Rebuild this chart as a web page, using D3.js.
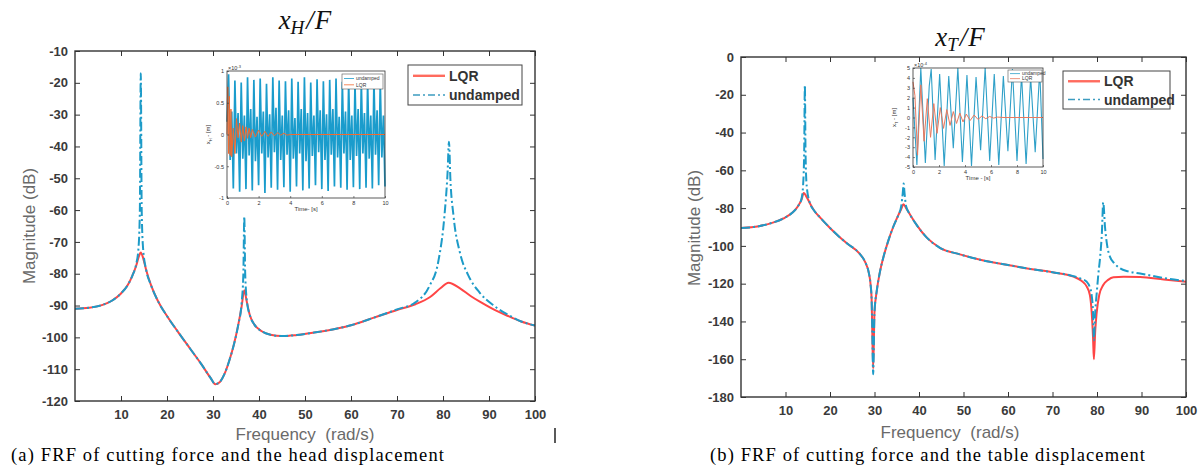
<!DOCTYPE html>
<html>
<head>
<meta charset="utf-8">
<title>FRF x_H/F and x_T/F</title>
<style>
  body { margin: 0; background: #fff; }
  svg { display: block; }
</style>
</head>
<body>
<script src="https://d3js.org/d3.v7.min.js"></script>
<svg id="fig" width="1198" height="468"></svg>

<script>
// ---- tick labels ----
var freqTicks = [10, 20, 30, 40, 50, 60, 70, 80, 90, 100];
var magTicksH = [-10, -20, -30, -40, -50, -60, -70, -80, -90, -100, -110, -120];
var magTicksT = [0, -20, -40, -60, -80, -100, -120, -140, -160, -180];
var seriesNames = ["LQR", "undamped"];

// ---- (a) x_H / F ----
var hLqrFreq = [0, 3, 6, 8, 10, 11.5, 12.5, 13.3, 13.9, 14.3, 14.8, 15.5, 16.5, 18, 20, 22.5, 25, 27.5, 29.5, 30.5,
                31.5, 32.5, 33.5, 34.5, 35.5, 36.2, 36.8, 37.3, 38, 39, 40.5, 42.5, 45, 48, 52, 56, 60, 65,
                70, 74, 77.2, 79.5, 81.2, 83.7, 86, 88, 91, 94, 97, 100];
var hLqrDb   = [-91, -90.7, -89.8, -88.5, -86.2, -83.5, -80.5, -77.5, -74.5, -73.3, -75, -79, -83.5, -88.5, -93.3, -98.5, -103.5, -108.5, -112.8, -114.7,
                -114, -111.5, -107.5, -102.5, -96, -90.5, -85.2, -88.5, -93, -96, -98, -99.2, -99.6, -99.3, -98.5, -97.5, -96.2, -93.8,
                -91.4, -89.6, -87.3, -84.5, -82.8, -84.6, -87, -88.8, -91.2, -93.2, -95, -96.3];

var hUndFreq = [0, 3, 6, 8, 10, 11.5, 12.5, 13.3, 13.8, 14.1, 14.3, 14.5, 14.8, 15.5, 16.5, 18, 20, 22.5, 25, 27.5,
                29.5, 30.5, 31.5, 32.5, 33.5, 34.5, 35.5, 36.2, 36.6, 36.8, 37.0, 37.4, 38, 39, 40.5, 42.5, 45, 48,
                52, 56, 60, 65, 70, 74, 77, 79, 80.3, 81.0, 81.3, 81.6, 82.3, 83.7, 85.5, 88, 91, 94, 97, 100];
var hUndDb   = [-91, -90.7, -89.8, -88.5, -86.2, -83.5, -80.5, -77, -72, -60, -17, -60, -72, -79, -83.5, -88.5, -93.3, -98.5, -103.5, -108.5,
                -112.8, -114.7, -114, -111.5, -107.5, -102.5, -96, -89.5, -80, -62, -80, -89, -93, -96, -98, -99.2, -99.6, -99.3,
                -98.5, -97.5, -96.2, -93.8, -91.2, -89, -84, -76, -62, -48, -38.5, -50, -62, -73.5, -80.5, -86, -90, -92.8, -95, -96.3];

// ---- (b) x_T / F ----
var tLqrFreq = [0, 4, 7, 9.5, 11.5, 12.8, 13.6, 14.1, 14.6, 15.5, 16.5, 17.8, 20, 22, 24, 26.6, 28, 28.7, 29.1, 29.35,
                29.5, 29.7, 30, 30.5, 31.2, 32, 33, 34.2, 35.3, 36, 36.5, 37.1, 38, 39.5, 41.7, 44.7, 49.2, 54, 59.7, 65,
                70, 74.7, 76.5, 77.7, 78.4, 78.8, 79.1, 79.3, 79.6, 79.9, 80.5, 81.4, 82.5, 83.7, 86, 89.7, 95, 100];
var tLqrDb   = [-90.5, -89.6, -87.8, -85.5, -82.5, -79, -75.5, -72, -73.5, -77.5, -81.5, -85, -90.5, -95, -99, -104, -109, -114, -120, -128,
                -145, -165, -135, -124, -114, -106, -98, -90, -84, -80.5, -78, -80, -83.5, -89, -95.5, -101, -104.5, -107.5, -110, -112.2,
                -114, -116.3, -118.5, -121.6, -126, -135, -148, -160, -145, -136, -126, -120.7, -118, -116.6, -116.3, -116.5, -117.8, -119];

var tUndFreq = [0, 4, 7, 9.5, 11.5, 12.8, 13.6, 13.95, 14.2, 14.35, 14.5, 14.75, 15.5, 16.5, 17.8, 20, 22, 24, 26.6, 28,
                28.7, 29.1, 29.35, 29.5, 29.7, 30, 30.5, 31.2, 32, 33, 34.2, 35.3, 36, 36.35, 36.55, 36.75, 37.1, 38, 39.5, 41.7,
                44.7, 49.2, 54, 59.7, 65, 70, 74.7, 76.5, 77.7, 78.4, 78.8, 79.1, 79.3, 79.6, 79.9, 80.3, 80.7, 81.1, 81.4, 81.8,
                82.3, 82.9, 84, 85.2, 87, 89.7, 95, 100];
var tUndDb   = [-90.5, -89.6, -87.8, -85.5, -82.5, -79, -75, -68, -50, -15, -50, -68, -77.5, -81.5, -85, -90.5, -95, -99, -104, -109,
                -114, -120, -128, -145, -168, -135, -124, -114, -106, -98, -90, -84, -79, -72, -67, -72, -79, -83.5, -89, -95.5,
                -101, -104.5, -107.5, -110, -112.2, -114, -116, -117.5, -119, -122, -126, -135, -150, -135, -126, -115, -106, -93, -77, -90,
                -100, -105.7, -109.5, -111.9, -113.5, -114.6, -117, -118.6];

// ---- inset (a): time response, x1e-3 m, sampled every 0.1 s ----
var insetHStep = 0.1;
var insetHUnd = [0.2, 0.95, -0.4, 0.36, -0.85,
  0.85, -0.3, 0.34, -0.9,  0.82, -0.38, 0.3, -0.86,  0.9, -0.33, 0.4, -0.88,  0.86, -0.42, 0.28, -0.8,
  0.88, -0.3, 0.36, -0.92, 0.8, -0.36, 0.32, -0.84,  0.9, -0.28, 0.42, -0.87,  0.85, -0.4, 0.3, -0.83,
  0.84, -0.32, 0.38, -0.9, 0.88, -0.38, 0.26, -0.82, 0.83, -0.3, 0.4, -0.88,  0.9, -0.42, 0.34, -0.85,
  0.82, -0.34, 0.3, -0.8,  0.87, -0.28, 0.38, -0.86, 0.84, -0.4, 0.32, -0.89,  0.86, -0.32, 0.4, -0.82,
  0.88, -0.36, 0.28, -0.84, 0.83, -0.3, 0.36, -0.87, 0.86, -0.4, 0.3, -0.83,  0.82, -0.34, 0.4, -0.86,
  0.85, -0.3, 0.34, -0.84, 0.84, -0.38, 0.3, -0.85,  0.86, -0.32, 0.38, -0.8,  0.84, -0.36, 0.3, -0.82];
var insetHLqrT = [0, 0.05, 0.1, 0.15, 0.2, 0.25, 0.3, 0.4, 0.5, 0.6, 0.7, 0.8, 0.9, 1.0, 1.1, 1.2, 1.3, 1.4, 1.5, 1.6,
                  1.8, 2.0, 2.2, 2.4, 2.6, 2.8, 3.0, 3.2, 3.4, 3.6, 3.8, 4.0, 10];
var insetHLqrV = [0, 0.75, -0.3, 0.6, -0.33, 0.4, -0.35, 0.1, -0.3, 0.25, -0.05, 0.18, -0.12, 0.14, -0.1, 0.12, -0.06, 0.1, -0.05, 0.08,
                  -0.04, 0.07, -0.03, 0.05, -0.03, 0.04, -0.02, 0.03, -0.01, 0.02, -0.01, 0, 0];

// ---- inset (b): time response, x1e-4 m ----
var insetTUndT = [0, 0.3, 0.6, 0.95, 1.25, 1.4, 1.7, 2.05, 2.4, 2.75, 3.1, 3.45, 3.8, 4.15, 4.5, 4.85, 5.2, 5.55, 5.9, 6.25,
                  6.6, 6.95, 7.3, 7.65, 8.0, 8.35, 8.7, 9.05, 9.4, 9.75, 10];
var insetTUndV = [2, -4.8, 5, -4.6, 3.2, 4.9, -4.3, 4.4, -4.9, 4.2, -3.1, 5.0, -4.5, 4.3, -4.9, 4.1, -3.3, 5.0, -4.4, 4.4,
                  -4.8, 4.2, -3.4, 4.9, -4.4, 4.3, -4.7, 4.1, -3.5, 4.8, -4.2];
var insetTLqrT = [0, 0.15, 0.35, 0.6, 0.85, 1.1, 1.35, 1.6, 1.85, 2.1, 2.35, 2.6, 2.85, 3.1, 3.35, 3.6, 3.85, 4.1, 4.4, 4.7,
                  5.0, 5.3, 5.6, 5.9, 6.2, 6.5, 7, 10];
var insetTLqrV = [3.6, 2.2, -3.8, 3.3, -2.4, 1.9, -2.0, 1.4, -1.6, 1.0, -1.1, 0.8, -0.8, 0.6, -0.6, 0.45, -0.45, 0.35, -0.3, 0.25,
                  -0.2, 0.15, -0.12, 0.1, -0.06, 0.04, 0, 0];

var RED = "#ff4545", BLUE = "#1d9bc8";
var SANS = "Liberation Sans, Arial, sans-serif";
var svg = d3.select("#fig");
svg.append("rect").attr("width", 1198).attr("height", 468).attr("fill", "#fff");

function styleTicks(sel) {
  sel.select(".domain").remove();
  sel.attr("color", "#333");
  sel.selectAll("line").attr("stroke-width", 1);
  sel.selectAll("text").attr("font-family", SANS).attr("font-weight", "bold")
     .attr("font-size", 13).attr("fill", "#3a3a3a");
}

function drawFrf(c) {
  var x = d3.scaleLinear().domain([0, 100]).range([c.x0, c.x1]);
  var y = d3.scaleLinear().domain([c.yTicks[c.yTicks.length - 1], c.yTicks[0]]).range([c.yb, c.yt]);
  var g = svg.append("g");

  g.append("g").attr("transform", "translate(0," + c.yb + ")")
    .call(d3.axisBottom(x).tickValues(freqTicks).tickSize(-5).tickPadding(9).tickFormat(function(d) { return d; }))
    .call(styleTicks);
  g.append("g").attr("transform", "translate(0," + c.yt + ")")
    .call(d3.axisTop(x).tickValues(freqTicks).tickSize(-5).tickFormat(""))
    .call(styleTicks);
  g.append("g").attr("transform", "translate(" + c.x0 + ",0)")
    .call(d3.axisLeft(y).tickValues(c.yTicks).tickSize(-5).tickPadding(7).tickFormat(function(d) { return String(d); }))
    .call(styleTicks);
  g.append("g").attr("transform", "translate(" + c.x1 + ",0)")
    .call(d3.axisRight(y).tickValues(c.yTicks).tickSize(-5).tickFormat(""))
    .call(styleTicks);

  var clipId = "clip" + c.id;
  g.append("clipPath").attr("id", clipId).append("rect")
    .attr("x", c.x0).attr("y", c.yt).attr("width", c.x1 - c.x0).attr("height", c.yb - c.yt);

  var line = d3.line().curve(d3.curveMonotoneX)
    .x(function(d) { return x(d[0]); }).y(function(d) { return y(d[1]); });
  var lines = g.append("g").attr("clip-path", "url(#" + clipId + ")").attr("fill", "none");
  lines.append("path").datum(d3.zip(c.lqrF, c.lqrDb)).attr("d", line)
    .attr("stroke", RED).attr("stroke-width", 2);
  lines.append("path").datum(d3.zip(c.undF, c.undDb)).attr("d", line)
    .attr("stroke", BLUE).attr("stroke-width", 2).attr("stroke-dasharray", "9,3,2,3");

  g.append("rect").attr("x", c.x0).attr("y", c.yt).attr("width", c.x1 - c.x0).attr("height", c.yb - c.yt)
    .attr("fill", "none").attr("stroke", "#333").attr("stroke-width", 1.4);

  // axis titles
  g.append("text").attr("x", c.xLabelX).attr("y", c.xLabelY).attr("text-anchor", "middle")
    .attr("font-family", SANS).attr("font-size", 17).attr("fill", "#6a6a6a")
    .attr("xml:space", "preserve").text("Frequency  (rad/s)");
  g.append("text").attr("transform", "translate(" + c.yLabelX + "," + c.yLabelY + ") rotate(-90)")
    .attr("text-anchor", "middle").attr("font-family", SANS).attr("font-size", 17).attr("fill", "#6a6a6a")
    .text("Magnitude (dB)");

  // title
  var t = g.append("text").attr("x", c.titleX).attr("y", c.titleY).attr("text-anchor", "middle")
    .attr("font-family", "Liberation Serif, serif").attr("font-style", "italic").attr("font-size", 27).attr("fill", "#111");
  t.append("tspan").text("x");
  t.append("tspan").attr("dy", 5).attr("font-size", 19).text(c.sub);
  t.append("tspan").attr("dy", -5).attr("dx", 2).text("/");
  t.append("tspan").attr("dx", 1).text("F");

  // legend
  var lg = g.append("g").attr("transform", "translate(" + c.legX + "," + c.legY + ")");
  lg.append("rect").attr("width", c.legW).attr("height", c.legH).attr("fill", "#fff")
    .attr("stroke", "#444").attr("stroke-width", 1);
  var rows = [{ name: seriesNames[0], col: "#ff6b5e", dash: null, y: c.legH * 0.27 },
              { name: seriesNames[1], col: "#3d9cc0", dash: "7,3,2,3", y: c.legH * 0.75 }];
  rows.forEach(function(r) {
    lg.append("line").attr("x1", 5).attr("x2", 37).attr("y1", r.y).attr("y2", r.y)
      .attr("stroke", r.col).attr("stroke-width", r.dash ? 1.6 : 2.4).attr("stroke-dasharray", r.dash);
    lg.append("text").attr("x", 41).attr("y", r.y + 5).attr("font-family", SANS).attr("font-weight", "bold")
      .attr("font-size", 14).attr("fill", "#333").text(r.name);
  });
  return g;
}

function drawInset(c) {
  var x = d3.scaleLinear().domain([0, 10]).range([c.x0, c.x1]);
  var y = d3.scaleLinear().domain([-c.ymax, c.ymax]).range([c.yb, c.yt]);
  var g = svg.append("g");
  g.append("rect").attr("x", c.x0).attr("y", c.yt).attr("width", c.x1 - c.x0).attr("height", c.yb - c.yt).attr("fill", "#fff");

  var line = d3.line().x(function(d) { return x(d[0]); }).y(function(d) { return y(d[1]); });
  g.append("path").datum(c.und).attr("d", line).attr("fill", "none")
    .attr("stroke", c.undCol).attr("stroke-width", c.undW);
  g.append("path").datum(c.lqr).attr("d", line).attr("fill", "none")
    .attr("stroke", c.lqrCol).attr("stroke-width", 1);

  function tiny(sel) {
    sel.select(".domain").remove();
    sel.attr("color", "#333");
    sel.selectAll("line").attr("stroke-width", 0.6);
    sel.selectAll("text").attr("font-family", SANS).attr("font-size", 5.5).attr("fill", "#333");
  }
  g.append("g").attr("transform", "translate(0," + c.yb + ")")
    .call(d3.axisBottom(x).tickValues([0, 2, 4, 6, 8, 10]).tickSize(-2).tickPadding(3)).call(tiny);
  g.append("g").attr("transform", "translate(" + c.x0 + ",0)")
    .call(d3.axisLeft(y).tickValues(c.yTicks).tickSize(-2).tickPadding(3).tickFormat(function(d) { return String(d); })).call(tiny);
  g.append("rect").attr("x", c.x0).attr("y", c.yt).attr("width", c.x1 - c.x0).attr("height", c.yb - c.yt)
    .attr("fill", "none").attr("stroke", "#333").attr("stroke-width", 0.8);

  var ex = g.append("text").attr("x", c.x0 + 1).attr("y", c.yt - 1).attr("font-family", SANS).attr("font-size", 5.5).attr("fill", "#333");
  ex.append("tspan").text("\u00d710");
  ex.append("tspan").attr("dy", -2).attr("font-size", 4).text(c.exp);

  g.append("text").attr("x", (c.x0 + c.x1) / 2).attr("y", c.yb + 13).attr("text-anchor", "middle")
    .attr("font-family", SANS).attr("font-size", 6).attr("fill", "#333").text(c.xTitle);
  var yl = g.append("text").attr("transform", "translate(" + (c.x0 - 17) + "," + ((c.yt + c.yb) / 2) + ") rotate(-90)")
    .attr("text-anchor", "middle").attr("font-family", SANS).attr("font-size", 6).attr("fill", "#333");
  yl.append("tspan").text("x");
  yl.append("tspan").attr("dy", 1.5).attr("font-size", 4).text(c.sub);
  yl.append("tspan").attr("dy", -1.5).text(" - [m]");

  var lg = g.append("g").attr("transform", "translate(" + c.legX + "," + c.legY + ")");
  lg.append("rect").attr("width", c.legW).attr("height", c.legH).attr("fill", "#fff").attr("stroke", "#555").attr("stroke-width", 0.6);
  [{ n: "undamped", col: c.undCol, y: c.legH * 0.3 }, { n: "LQR", col: c.lqrCol, y: c.legH * 0.72 }].forEach(function(r) {
    lg.append("line").attr("x1", 2).attr("x2", 12).attr("y1", r.y).attr("y2", r.y).attr("stroke", r.col).attr("stroke-width", 0.8);
    lg.append("text").attr("x", 14).attr("y", r.y + 1.8).attr("font-family", SANS).attr("font-size", 5).attr("fill", "#333").text(r.n);
  });
}

drawFrf({
  id: "A", x0: 75, x1: 535, yt: 51, yb: 401, yTicks: magTicksH,
  lqrF: hLqrFreq, lqrDb: hLqrDb, undF: hUndFreq, undDb: hUndDb,
  xLabelX: 305, xLabelY: 440, yLabelX: 35, yLabelY: 226,
  titleX: 305, titleY: 29, sub: "H",
  legX: 408, legY: 65, legW: 114, legH: 40
});
drawFrf({
  id: "B", x0: 741, x1: 1186, yt: 57, yb: 397, yTicks: magTicksT,
  lqrF: tLqrFreq, lqrDb: tLqrDb, undF: tUndFreq, undDb: tUndDb,
  xLabelX: 950, xLabelY: 438, yLabelX: 700, yLabelY: 228,
  titleX: 960, titleY: 46, sub: "T",
  legX: 1063, legY: 71, legW: 107, legH: 38
});

drawInset({
  x0: 227, x1: 385, yt: 71, yb: 198, ymax: 1, yTicks: [-1, -0.5, 0, 0.5, 1], exp: "-3", sub: "H",
  und: insetHUnd.map(function(v, i) { return [i * insetHStep, v]; }),
  lqr: d3.zip(insetHLqrT, insetHLqrV),
  undCol: "#1a9ccc", undW: 1.7, lqrCol: "#f26a2e",
  xTitle: "Time- [s]", legX: 342, legY: 74, legW: 41, legH: 15
});
drawInset({
  x0: 913, x1: 1043, yt: 68, yb: 167, ymax: 5, yTicks: [-5, -4, -3, -2, -1, 0, 1, 2, 3, 4, 5], exp: "-4", sub: "T",
  und: d3.zip(insetTUndT, insetTUndV),
  lqr: d3.zip(insetTLqrT, insetTLqrV),
  undCol: "#2fa0c8", undW: 1.1, lqrCol: "#e8795e",
  xTitle: "Time - [s]", legX: 1008, legY: 70, legW: 34, legH: 12
});

// captions
svg.append("text").attr("x", 11).attr("y", 461).attr("font-family", "Liberation Serif, serif")
  .attr("font-size", 18.5).attr("textLength", 433).attr("lengthAdjust", "spacing").attr("fill", "#000")
  .text("(a) FRF of cutting force and the head displacement");
svg.append("text").attr("x", 710).attr("y", 461).attr("font-family", "Liberation Serif, serif")
  .attr("font-size", 18.5).attr("textLength", 435).attr("lengthAdjust", "spacing").attr("fill", "#000")
  .text("(b) FRF of cutting force and the table displacement");
// stray cursor mark in the source figure
svg.append("line").attr("x1", 555).attr("x2", 555).attr("y1", 428).attr("y2", 443).attr("stroke", "#000").attr("stroke-width", 1.3);
</script>
</body>
</html>
